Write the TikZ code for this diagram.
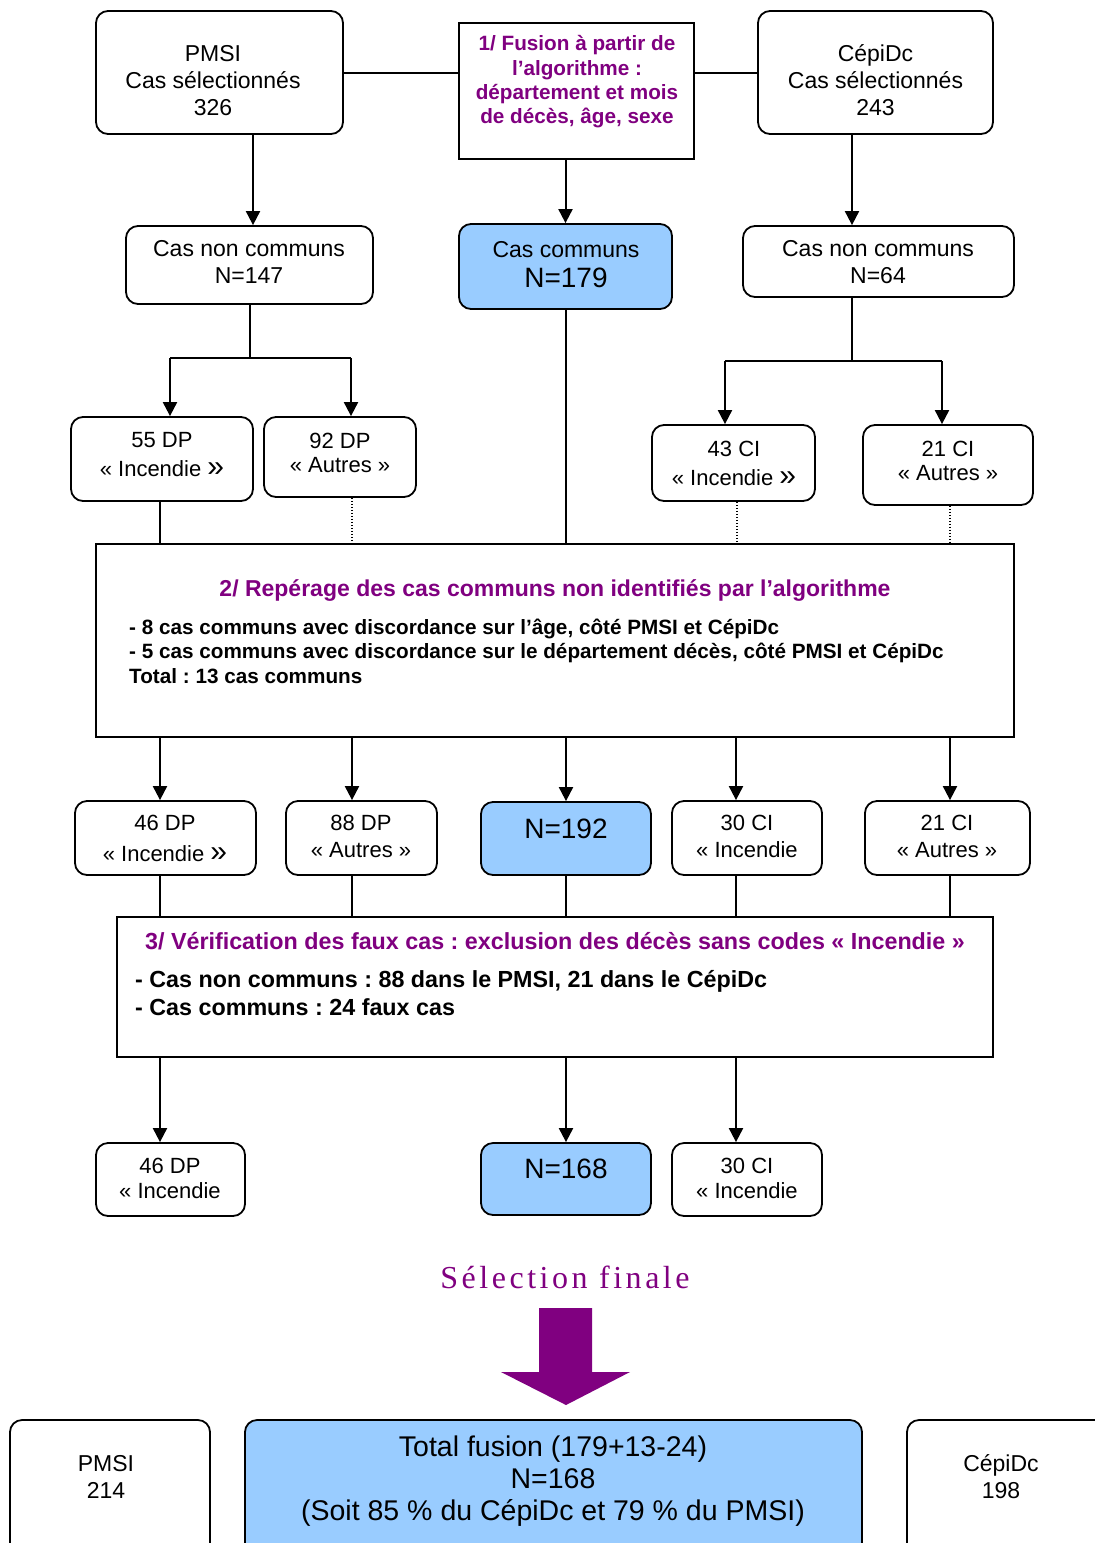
\documentclass[tikz,border=0pt]{standalone}
\usepackage{fontspec}
\setmainfont{Liberation Sans}
\newfontfamily\selfont[LetterSpace=11]{Liberation Serif}
\usetikzlibrary{arrows.meta}
\definecolor{purp}{RGB}{128,0,128}
\definecolor{lblue}{RGB}{153,204,255}
\frenchspacing
\begin{document}
\begin{tikzpicture}[x=1pt,y=-1pt,
  rbox/.style={draw=black, line width=1.8pt, rounded corners=12pt, inner sep=0pt, fill=white},
  sbox/.style={draw=black, line width=1.8pt, inner sep=0pt, fill=white},
  bbox/.style={rbox, fill=lblue},
  txt/.style={align=center, inner sep=0pt, font=\fontsize{23}{27}\selectfont},
  stxt/.style={align=center, inner sep=0pt, font=\fontsize{22}{24}\selectfont},
  bigtxt/.style={align=center, inner sep=0pt, font=\fontsize{28.5}{32}\selectfont},
  ptitle/.style={inner sep=0pt, text=purp, font=\bfseries\fontsize{23.3}{27}\selectfont},
  body/.style={align=left, inner sep=0pt, anchor=west},
  conn/.style={line width=2pt},
  arr/.style={conn, -{Triangle[width=14pt,length=14pt]}},
  dotl/.style={line width=1.2pt, dash pattern=on 1.5pt off 1.5pt}
]
\useasboundingbox (0,0) rectangle (1095,1543);
\clip (0,0) rectangle (1095,1543);
\fill[white] (0,0) rectangle (1095,1543);

% column coordinates
\coordinate (k253) at (253,0);
\coordinate (k852) at (852,0);
\coordinate (c1) at (160,0);
\coordinate (c2) at (352,0);
\coordinate (c3) at (566,0);
\coordinate (c4) at (736,0);
\coordinate (c4b) at (737,0);
\coordinate (c5) at (950,0);

% ---- top row
\node[rbox, minimum width=247pt, minimum height=123pt] (pmsiA) at (219.5,72.5) {};
\node[sbox, minimum width=235pt, minimum height=136pt] (fus) at (576.5,91) {};
\node[rbox, minimum width=235pt, minimum height=123pt] (cepA) at (875.5,72.5) {};
\node[txt] (tpmsiA) at (213,81) {PMSI\\Cas sélectionnés\\326};
\node[align=center, inner sep=0pt, text=purp, font=\bfseries\fontsize{20.7}{24.3}\selectfont] (tfus) at (577,82)
  {1/ Fusion à partir de\\l’algorithme :\\département et mois\\de décès, âge, sexe};
\node[txt] (tcepA) at (875.5,80.5) {CépiDc\\Cas sélectionnés\\243};

% ---- second row
\node[rbox, minimum width=247pt, minimum height=78pt] (ncL) at (249.5,265) {};
\node[bbox, minimum width=213pt, minimum height=85pt] (cc) at (565.5,266.5) {};
\node[rbox, minimum width=271pt, minimum height=71pt] (ncR) at (878.5,261.5) {};
\node[txt] (tncL) at (249,262) {Cas non communs\\N=147};
\node[txt] (tcc) at (566,264.5) {Cas communs\\[3pt]\fontsize{28}{30}\selectfont N=179};
\node[txt] (tncR) at (878,262) {Cas non communs\\N=64};

% ---- third row
\node[rbox, minimum width=182pt, minimum height=84pt] (dp55) at (162,459) {};
\node[rbox, minimum width=152pt, minimum height=80pt] (dp92) at (340,457) {};
\node[rbox, minimum width=163pt, minimum height=76pt] (ci43) at (733.5,463) {};
\node[rbox, minimum width=170pt, minimum height=80pt] (ci21) at (948,465) {};
\node[stxt] (tdp55) at (162,455) {55 DP\\[5pt]« Incendie {\fontsize{30}{30}\selectfont »}};
\node[stxt] (tdp92) at (340,452.5) {92 DP\\« Autres »};
\node[stxt] (tci43) at (734,463) {43 CI\\[5pt]« Incendie {\fontsize{30}{30}\selectfont »}};
\node[stxt] (tci21) at (948,460.5) {21 CI\\« Autres »};

% ---- box 2
\node[sbox, minimum width=918pt, minimum height=193pt] (b2) at (555,640.5) {};
\node[ptitle, font=\bfseries\fontsize{23}{27}\selectfont] (tb2) at (555,590.5) {2/ Repérage des cas communs non identifiés par l’algorithme};
\node[body, font=\bfseries\fontsize{20.7}{24.5}\selectfont] (tb2b) at (129,651)
  {- 8 cas communs avec discordance sur l’âge, côté PMSI et CépiDc\\
   - 5 cas communs avec discordance sur le département décès, côté PMSI et CépiDc\\
   Total : 13 cas communs};

% ---- row 3
\node[rbox, minimum width=181pt, minimum height=74pt] (r3a) at (165.5,838) {};
\node[rbox, minimum width=151pt, minimum height=74pt] (r3b) at (361.5,838) {};
\node[bbox, minimum width=170pt, minimum height=73pt] (r3c) at (566,838.5) {};
\node[rbox, minimum width=150pt, minimum height=74pt] (r3d) at (747,838) {};
\node[rbox, minimum width=165pt, minimum height=74pt] (r3e) at (947.5,838) {};
\node[stxt] (tr3a) at (165,838) {46 DP\\[7pt]« Incendie {\fontsize{30}{30}\selectfont »}};
\node[stxt] (tr3b) at (361,836) {88 DP\\[3pt]« Autres »};
\node[inner sep=0pt, font=\fontsize{28}{30}\selectfont] (tr3c) at (566,828.5) {N=192};
\node[stxt] (tr3d) at (747,836) {30 CI\\[3pt]« Incendie};
\node[stxt] (tr3e) at (947,836) {21 CI\\[3pt]« Autres »};

% ---- box 3
\node[sbox, minimum width=876pt, minimum height=140pt] (b3) at (555,987) {};
\node[ptitle] (tb3) at (555,941) {3/ Vérification des faux cas : exclusion des décès sans codes « Incendie »};
\node[body, font=\bfseries\fontsize{23.3}{28}\selectfont] (tb3b) at (135,993.5)
  {- Cas non communs : 88 dans le PMSI, 21 dans le CépiDc\\
   - Cas communs : 24 faux cas};

% ---- row 4
\node[rbox, minimum width=149pt, minimum height=73pt] (r4a) at (170.5,1179.5) {};
\node[bbox, minimum width=170pt, minimum height=72pt] (r4b) at (566,1179) {};
\node[rbox, minimum width=150pt, minimum height=73pt] (r4c) at (747,1179.5) {};
\node[stxt] (tr4a) at (170,1178) {46 DP\\[1pt]« Incendie};
\node[inner sep=0pt, font=\fontsize{28}{30}\selectfont] (tr4b) at (566,1168.5) {N=168};
\node[stxt] (tr4c) at (747,1178) {30 CI\\[1pt]« Incendie};

% ---- final selection
\node[inner sep=0pt, text=purp, font=\selfont\fontsize{32}{36}\selectfont] (tsel) at (565,1277) {Sélection finale};
\fill[purp] (539,1308) -- (592,1308) -- (592,1372) -- (630,1372) -- (566,1405) -- (501,1372) -- (539,1372) -- cycle;

\node[rbox, minimum width=200pt, minimum height=180pt] (fpmsi) at (110,1510) {};
\node[bbox, minimum width=617pt, minimum height=180pt] (ftot) at (553.5,1510) {};
\node[rbox, minimum width=213pt, minimum height=180pt] (fcep) at (1013.5,1510) {};
\node[txt] (tfpmsi) at (106,1476.5) {PMSI\\214};
\node[bigtxt] (tftot) at (553,1481.5) {Total fusion (179+13-24)\\N=168\\(Soit 85 \% du CépiDc et 79 \% du PMSI)};
\node[txt] (tfcep) at (1001,1476.5) {CépiDc\\198};

% ---- connectors
\draw[conn] (pmsiA.east) -- (pmsiA.east -| fus.west);
\draw[conn] (cepA.west -| fus.east) -- (cepA.west);
\draw[arr] (pmsiA.south -| k253) -- (ncL.north -| k253);
\draw[arr] (fus.south -| cc.north) -- (cc.north);
\draw[arr] (cepA.south -| k852) -- (ncR.north -| k852);

\coordinate (jL) at (249.5,358);
\coordinate (aL1) at (170,358);
\coordinate (aL2) at (351,358);
\draw[conn] (ncL.south) -- (jL);
\draw[conn] (aL1) -- (aL2);
\draw[arr] (aL1) -- (dp55.north -| aL1);
\draw[arr] (aL2) -- (dp92.north -| aL2);

\coordinate (jR) at (852,361);
\coordinate (aR1) at (725,361);
\coordinate (aR2) at (942,361);
\draw[conn] (ncR.south -| jR) -- (jR);
\draw[conn] (aR1) -- (aR2);
\draw[arr] (aR1) -- (ci43.north -| aR1);
\draw[arr] (aR2) -- (ci21.north -| aR2);

\draw[conn] (dp55.south -| c1) -- (b2.north -| c1);
\draw[dotl] (dp92.south -| c2) -- (b2.north -| c2);
\draw[conn] (cc.south) -- (b2.north -| cc.south);
\draw[dotl] (ci43.south -| c4b) -- (b2.north -| c4b);
\draw[dotl] (ci21.south -| c5) -- (b2.north -| c5);

\draw[arr] (b2.south -| c1) -- (r3a.north -| c1);
\draw[arr] (b2.south -| c2) -- (r3b.north -| c2);
\draw[arr] (b2.south -| c3) -- (r3c.north -| c3);
\draw[arr] (b2.south -| c4) -- (r3d.north -| c4);
\draw[arr] (b2.south -| c5) -- (r3e.north -| c5);

\draw[conn] (r3a.south -| c1) -- (b3.north -| c1);
\draw[conn] (r3b.south -| c2) -- (b3.north -| c2);
\draw[conn] (r3c.south -| c3) -- (b3.north -| c3);
\draw[conn] (r3d.south -| c4) -- (b3.north -| c4);
\draw[conn] (r3e.south -| c5) -- (b3.north -| c5);

\draw[arr] (b3.south -| c1) -- (r4a.north -| c1);
\draw[arr] (b3.south -| c3) -- (r4b.north -| c3);
\draw[arr] (b3.south -| c4) -- (r4c.north -| c4);
\end{tikzpicture}
\end{document}
